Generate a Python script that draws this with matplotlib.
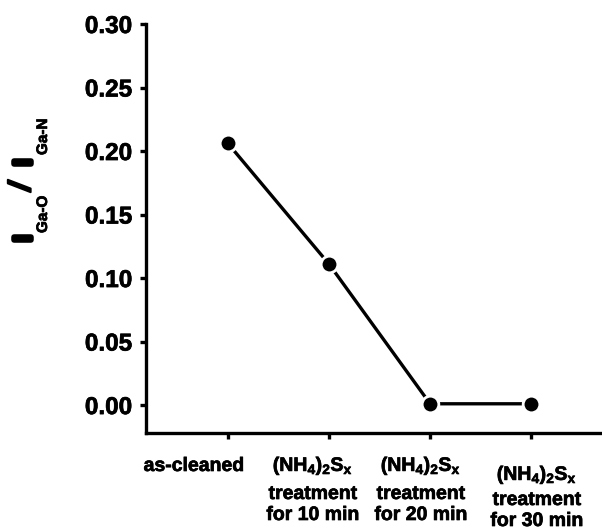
import matplotlib
matplotlib.use('Agg')
import matplotlib.pyplot as plt
import matplotlib.patheffects as pe

# ---- data ----
categories = ['as-cleaned', '(NH4)2Sx 10 min', '(NH4)2Sx 20 min', '(NH4)2Sx 30 min']
ratio = [0.206, 0.111, 0.001, 0.001]
yticks = [0.00, 0.05, 0.10, 0.15, 0.20, 0.25, 0.30]
xlabel_lines = [
    ['as-cleaned'],
    [r'$\mathbf{(NH_4)_2S_x}$', 'treatment', 'for 10 min'],
    [r'$\mathbf{(NH_4)_2S_x}$', 'treatment', 'for 20 min'],
    [r'$\mathbf{(NH_4)_2S_x}$', 'treatment', 'for 30 min'],
]

plt.rcParams['font.family'] = ['Liberation Sans', 'DejaVu Sans']
plt.rcParams['font.weight'] = 'bold'
plt.rcParams['mathtext.fontset'] = 'custom'
plt.rcParams['mathtext.rm'] = 'Liberation Sans:bold'
plt.rcParams['mathtext.it'] = 'Liberation Sans:bold'
plt.rcParams['mathtext.bf'] = 'Liberation Sans:bold'

W, H = 602, 530
fig = plt.figure(figsize=(W / 100, H / 100), dpi=100)
ax = fig.add_axes([146 / W, 1 - 433 / H, (W - 146) / W, (433 - 24) / H])

x = list(range(len(categories)))
ax.plot(x, ratio, '-', color='black', lw=2.4, marker='o', ms=12,
        mfc='black', mec='white', mew=2, zorder=3, clip_on=False)

ax.set_xlim(-0.81, 3.70)
ax.set_ylim(-0.022, 0.30)
ax.set_yticks(yticks)
ax.set_yticklabels([f'{v:.2f}' for v in yticks], fontsize=17.5, fontweight='bold')
for t in ax.get_yticklabels():
    t.set_path_effects([pe.withStroke(linewidth=0.5, foreground='black')])
ax.set_xticks(x)
ax.set_xticklabels([''] * len(x))

for s in ['top', 'right']:
    ax.spines[s].set_visible(False)
for s in ['left', 'bottom']:
    ax.spines[s].set_linewidth(2.4)
ax.tick_params(axis='both', direction='out', length=4, width=2.4, color='black')
ax.tick_params(axis='y', pad=6)

def px(xp, yp):
    return xp / W, 1 - yp / H

thin = [pe.withStroke(linewidth=0.5, foreground='black')]

# x category labels (centre x, baselines in pixels)
centres = [194, 313, 421, 537]
baselines = [[471], [471, 499, 520], [471, 499, 520], [480, 505, 526]]
for lines, cx, bls in zip(xlabel_lines, centres, baselines):
    for line, by in zip(lines, bls):
        fig.text(*px(cx, by), line, ha='center', va='baseline',
                 fontsize=14, fontweight='bold', path_effects=thin)

# y label built from pieces (rotated): text, size, style, stroke, baseline x, start y
pieces = [
    ('I', 17.5, 'normal', 4.0, 31, 242),
    ('Ga-O', 11, 'normal', 0.5, 47, 233),
    ('/', 22, 'italic', 1.5, 30, 191),
    ('I', 17.5, 'normal', 4.0, 31, 166),
    ('Ga-N', 11, 'normal', 0.5, 47, 155),
]
for txt, fs, st, sw, bx, sy in pieces:
    fig.text(*px(bx, sy), txt, rotation=90, rotation_mode='anchor',
             ha='left', va='baseline', fontsize=fs, fontweight='bold',
             fontstyle=st,
             path_effects=[pe.withStroke(linewidth=sw, foreground='black')])

fig.savefig('out.png', dpi=100)
